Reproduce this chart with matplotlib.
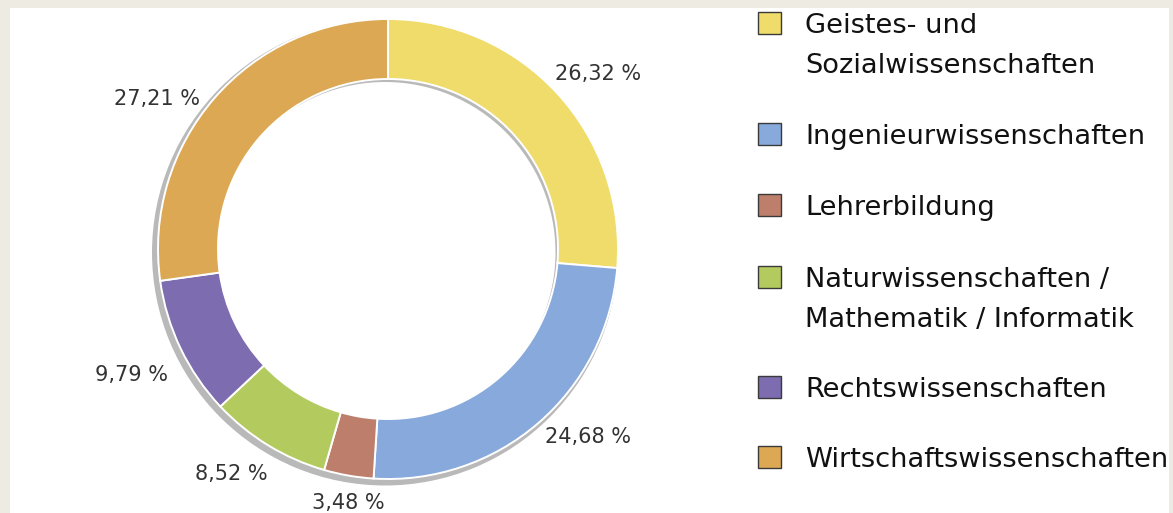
import matplotlib
matplotlib.use("Agg")
import matplotlib.pyplot as plt
from matplotlib.patches import Rectangle
import numpy as np

# ---- data ----
categories = [
    "Geistes- und\nSozialwissenschaften",
    "Ingenieurwissenschaften",
    "Lehrerbildung",
    "Naturwissenschaften /\nMathematik / Informatik",
    "Rechtswissenschaften",
    "Wirtschaftswissenschaften",
]
shares = [26.32, 24.68, 3.48, 8.52, 9.79, 27.21]
colors = ["#f0dc6b", "#87a9dc", "#bd7f6c", "#b3cb5e", "#7d6caf", "#dca853"]

# ---- layout ----
W, H = 1173, 513
cx, cy = 388, H - 249
R, ring = 230, 60
shadow_off = (-3, -3.5)
shadow_grow = 3
label_r = [1.19, 1.19, 1.115, 1.19, 1.24, 1.20]
label_dang = [-2.6, 6.1, 1.0, -3.5, 0.4, 7.8]
legend_baselines = [33, 144, 215, 287, 397, 467]
legend_line_gap = 40

plt.rcParams['font.family'] = ['DejaVu Sans']
fig = plt.figure(figsize=(W / 100, H / 100), dpi=100, facecolor="#eeebe2")
ax = fig.add_axes([0, 0, 1, 1])
ax.set_facecolor("none")

# white panel
ax.add_patch(Rectangle((10, 0), W - 14, H - 8, facecolor="white", edgecolor="none", zorder=0))

# shadow ring
ax.pie([1], colors=["#b9b9b9"], radius=R + shadow_grow,
       center=(cx + shadow_off[0], cy + shadow_off[1]),
       wedgeprops=dict(width=ring + shadow_grow - 0.5, edgecolor="none", zorder=1), startangle=90)

wedges, _ = ax.pie(shares, colors=colors, startangle=90, counterclock=False, radius=R,
                   center=(cx, cy),
                   wedgeprops=dict(width=ring, edgecolor="white", linewidth=1.4, zorder=2))

for w, v, kr, da in zip(wedges, shares, label_r, label_dang):
    ang = np.deg2rad((w.theta1 + w.theta2) / 2 + da)
    x = cx + kr * R * np.cos(ang)
    y = cy + kr * R * np.sin(ang)
    ax.text(x, y - 7, f"{v:.2f}".replace(".", ",") + " %", ha="center", va="baseline",
            fontsize=15, color="#333333", zorder=3)

# legend
for cat, col, yb in zip(categories, colors, legend_baselines):
    yd = H - yb
    ax.add_patch(Rectangle((758, yd - 1), 23, 22, facecolor=col, edgecolor="#3a3a3a",
                           linewidth=1.0, zorder=3))
    for i, line in enumerate(cat.split("\n")):
        ax.text(805, yd - i * legend_line_gap, line, ha="left", va="baseline",
                fontsize=19.6, color="#111111", zorder=3)

ax.set_xlim(0, W)
ax.set_ylim(0, H)
ax.set_aspect("auto")
ax.axis("off")

fig.savefig("out.png", dpi=100, facecolor=fig.get_facecolor())
